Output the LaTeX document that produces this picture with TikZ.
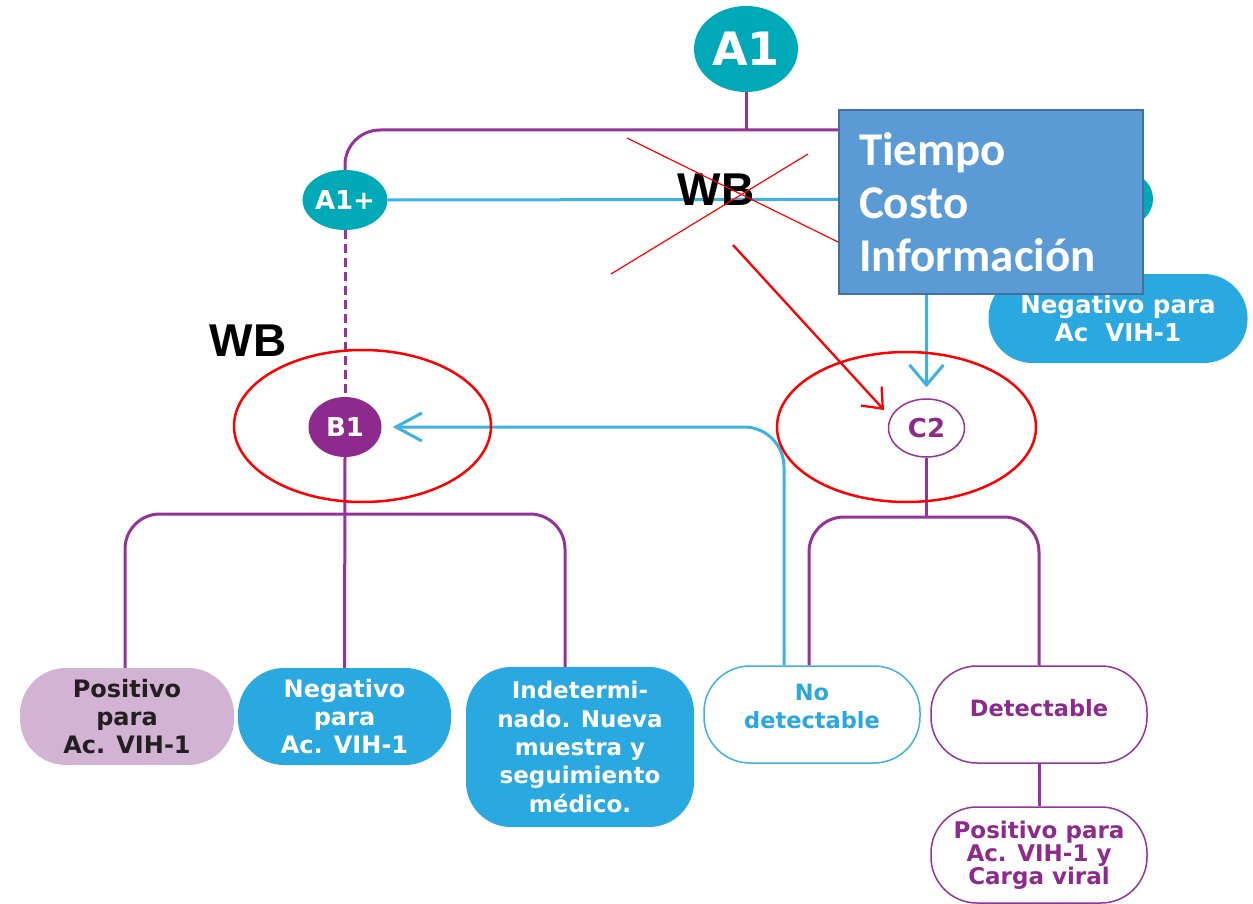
\documentclass[tikz,border=0pt]{standalone}
\usepackage{fontspec}
\setmainfont{DejaVu Sans}
\newfontfamily\calib{Carlito}
\newfontfamily\arialf{Liberation Sans}
\usetikzlibrary{arrows.meta,shapes.geometric,backgrounds}
\definecolor{teal1}{HTML}{00A9B7}
\definecolor{purp}{HTML}{8E2A8E}
\definecolor{purpl}{HTML}{94349A}
\definecolor{bluebox}{HTML}{29A9E0}
\definecolor{blueline}{HTML}{3DB1E3}
\definecolor{bluetext}{HTML}{2AA7DF}
\definecolor{lilac}{HTML}{D3B3D4}
\definecolor{darktext}{HTML}{231F20}
\definecolor{pptblue}{HTML}{5B9BD5}
\definecolor{pptedge}{HTML}{41719C}
\newcommand{\fs}[2]{\fontsize{#1}{#2}\selectfont}
\begin{document}
\begin{tikzpicture}[x=1pt,y=-1pt,
  rnd/.style={ellipse,inner sep=0pt,minimum width=73pt,minimum height=60pt,font=\bfseries\fs{26}{26}},
  tealc/.style={rnd,fill=teal1,text=white},
  plink/.style={draw=purpl,line width=3pt,rounded corners=35pt},
  blink/.style={draw=blueline,line width=3pt},
  boxs/.style={rectangle,rounded corners=46pt,inner sep=0pt,align=center,font=\bfseries\fs{24}{28}},
  fillbox/.style={boxs,fill=bluebox,text=white},
  pbox/.style={boxs,fill=white,draw=purpl,line width=1.5pt,text=purp},
  wbtext/.style={font=\arialf\bfseries\fs{46}{46},text=black},
  redl/.style={draw=red,line width=2.5pt}
]
\useasboundingbox (0,0) rectangle (1253,904);

% circles
\node[tealc,minimum width=104pt,minimum height=86pt,font=\bfseries\fs{46}{46}] (A1) at (746,49) {A1};
\node[tealc] (A1p) at (345,200) {A1+};
\node[tealc] (Am) at (1116.5,199) {};
\node[rnd,fill=purp,text=white] (B1) at (345,427) {B1};
\node[rnd,fill=white,draw=purpl,line width=1.5pt,text=purp,minimum width=76pt,minimum height=58pt] (C2) at (926.5,428) {C2};

% boxes
\node[fillbox,minimum width=259pt,minimum height=89pt,rounded corners=44pt,font=\bfseries\fs{24.5}{28}] (Nm) at (1118,318.5) {Negativo para\\Ac~~VIH-1};
\node[boxs,fill=lilac,text=darktext,minimum width=214pt,minimum height=97pt] (PosL) at (127,716.5) {Positivo\\para\\Ac. VIH-1};
\node[fillbox,minimum width=213pt,minimum height=97pt] (NegL) at (344.5,716.5) {Negativo\\para\\Ac. VIH-1};
\node[fillbox,minimum width=228pt,minimum height=160pt,rounded corners=45pt,font=\bfseries\fs{23}{28.3}] (Ind) at (580,747) {Indetermi-\\nado. Nueva\\muestra y\\seguimiento\\médico.};
\node[boxs,fill=white,draw=blueline,line width=1.5pt,text=bluetext,minimum width=216pt,minimum height=97pt,font=\bfseries\fs{22.5}{28}] (NoD) at (812,714.5) {};
\node[text=bluetext,align=center,font=\bfseries\fs{22.5}{28},inner sep=0pt] (NoDt) at (812,706) {No\\detectable};
\node[pbox,minimum width=216pt,minimum height=97pt] (Det) at (1039,714.5) {};
\node[text=purp,font=\bfseries\fs{22.5}{28},inner sep=0pt] (Dett) at (1039,708) {Detectable};
\node[pbox,minimum width=216pt,minimum height=96pt,font=\bfseries\fs{23}{23}] (PosR) at (1039,855) {Positivo para\\Ac. VIH-1 y\\Carga viral};

\coordinate (bl) at (125,514);
\coordinate (br) at (565,514);
\coordinate (cl) at (809,517);
\coordinate (cr) at (1039,517);
\coordinate (cm) at (926.5,517);
\coordinate (tl) at (345,130);
\coordinate (tr) at (1116.5,130);
\coordinate (ta) at (746,130);
\coordinate (ka) at (1116.5,262);
\coordinate (kb) at (926.5,262);
\coordinate (nb) at (784,427);

\begin{scope}[on background layer]
  \draw[plink] (A1.south) -- (ta);
  \draw[plink] (A1p.north) -- (tl) -- (tr) -- (Am.north);
  \draw[blink] (A1p.east) -- (Am.west);
  \draw[blink] (Am.south) -- (Nm.north);
  \draw[blink,rounded corners=30pt,-{Straight Barb[length=20pt,width=34pt]},shorten >=11pt] (Am.south) -- (ka) -- (kb) -- (C2.north);
  \draw[draw=purpl,line width=3pt,dash pattern=on 9pt off 5pt] (A1p.south) -- (B1.north);
  \draw[plink] (bl |- PosL.north) -- (bl) -- (br) -- (br |- Ind.north);
  \draw[plink] (B1.south) -- (NegL.north);
  \draw[plink] (C2.south) -- (cm);
  \draw[plink] (cl |- NoD.north) -- (cl) -- (cr) -- (cr |- Det.north);
  \draw[plink] (Det.south) -- (PosR.north);
  \draw[blink,rounded corners=40pt,-{Straight Barb[length=26pt,width=28pt]},shorten >=11pt] (nb |- NoD.north) -- (nb) -- (B1.east);
\end{scope}

% annotations
\node[wbtext] (wb1) at (248,341) {WB};
\node[wbtext] (wb2) at (716,190) {WB};
\coordinate (x1a) at (627,138);
\coordinate (x1b) at (840,243);
\coordinate (x2a) at (611,274);
\coordinate (x2b) at (808,154);
\draw[red,line width=1.2pt] (x1a) -- (x1b);
\draw[red,line width=1.2pt] (x2a) -- (x2b);
\coordinate (ra) at (733,245);
\coordinate (rb) at (884,410);
\draw[red,line width=2.3pt,-{Straight Barb[length=17pt,width=28pt]}] (ra) -- (rb);
\node[ellipse,draw=red,line width=2.5pt,minimum width=257pt,minimum height=152pt,inner sep=0pt] (e1) at (362.5,426) {};
\node[ellipse,draw=red,line width=2.5pt,minimum width=259pt,minimum height=150pt,inner sep=0pt] (e2) at (906.5,427) {};

% overlay box
\node[rectangle,fill=pptblue,draw=pptedge,line width=2pt,minimum width=304pt,minimum height=183pt,
      text width=264pt,align=left,inner xsep=20pt,text=white,font=\calib\bfseries\fs{47}{53}] (tbox) at (991,202) {Tiempo\\Costo\\Información};
\end{tikzpicture}
\end{document}
